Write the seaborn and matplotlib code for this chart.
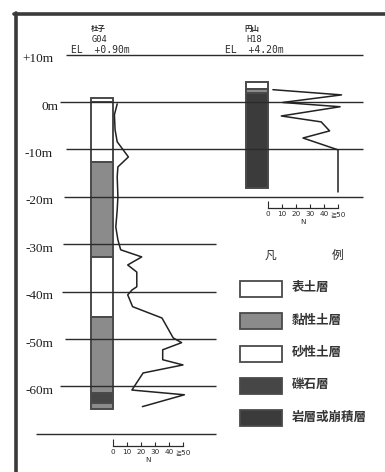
import matplotlib
matplotlib.use("Agg")
import matplotlib.pyplot as plt
from matplotlib.lines import Line2D
from matplotlib.patches import Rectangle
import pandas as pd
import seaborn as sns

sns.set_style("white")
plt.rcParams["font.family"] = ["DejaVu Sans", "Noto Sans CJK TC"]

# ---- data -------------------------------------------------------------
grid_levels = [10, 0, -10, -20, -30, -40, -50, -60, -70]
grid_labels = ["+10m", "0m", "-10m", "-20m", "-30m", "-40m", "-50m", "-60m", ""]

bh_names = ["杜子", "円山"]
bh_ids = ["G04", "H18"]
bh_el_text = ["EL  +0.90m", "EL  +4.20m"]

# layer logs: top / bottom elevation (m) and soil class
g04_top = [0.9, 0.0, -12.6, -32.7, -45.4, -61.5, -63.5]
g04_bottom = [0.0, -12.6, -32.7, -45.4, -61.5, -63.5, -64.8]
g04_soil = ["表土層", "砂性土層", "黏性土層", "砂性土層", "黏性土層", "礫石層", "黏性土層"]

h18_top = [4.2, 2.8, 1.8]
h18_bottom = [2.8, 1.8, -18.1]
h18_soil = ["表土層", "黏性土層", "岩層或崩積層"]

# SPT N-value profiles
g04_n_elev = [-0.4, -2.7, -5.9, -8.4, -11.6, -13.7, -15.8, -20.0, -22.8, -26.4,
              -29.1, -31.2, -32.7, -34.4, -35.9, -39.0, -39.7, -40.7, -43.2,
              -45.6, -49.8, -50.8, -52.3, -54.4, -55.5, -57.2, -60.8, -61.8, -64.3]
g04_n = [3, 1, 1.5, 3, 11, 3.5, 3, 3.5, 3, 2,
         3.5, 5.5, 20.5, 10.5, 17, 17, 13.5, 10.5, 14,
         35, 43, 49, 35.5, 35.5, 50, 21.5, 13.5, 51, 21]

h18_n_elev = [2.6, 1.5, -0.1, -1.0, -2.95, -4.2, -6.1, -7.6, -10.1, -19.0]
h18_n = [3.5, 52.5, 10.5, 51.5, 9.5, 38, 44, 25, 50, 50]

n_ticks = [0, 10, 20, 30, 40, 50]
n_tick_labels = ["0", "10", "20", "30", "40", "≧50"]

legend_title = ["凡", "例"]
legend_classes = ["表土層", "黏性土層", "砂性土層", "礫石層", "岩層或崩積層"]

soil_colors = {
    "表土層": "#ffffff",
    "黏性土層": "#8b8b8b",
    "砂性土層": "#ffffff",
    "礫石層": "#464646",
    "岩層或崩積層": "#3b3b3b",
}

# ---- layout (pixel grid of the sheet) ----------------------------------
W, H = 385, 472
PX_PER_M = 4.7375
ROW0 = 102          # pixel row of elevation 0 m
INK = "#2b2b2b"
EDGE = "#4a4a4a"


def elev_at(row):
    return (ROW0 - row) / PX_PER_M


fig = plt.figure(figsize=(W / 100, H / 100), dpi=100)
fig.patch.set_facecolor("white")
ax = fig.add_axes([0, 0, 1, 1])
ax.set_xlim(0, W)
ax.set_ylim(elev_at(H), elev_at(0))
ax.axis("off")

# sheet frame
fig.add_artist(Line2D([14 / W, 1], [1 - 13.5 / H] * 2, lw=2.6, color="#3a3a3a"))
fig.add_artist(Line2D([15.5 / W] * 2, [0, 1 - 12.5 / H], lw=2.6, color="#3a3a3a"))

# elevation grid
line_start = [66, 60, 66, 64, 63, 62, 65, 60, 36]
line_end = [363, 363, 363, 363, 216, 216, 216, 216, 216]
for lvl, x0, x1, lab in zip(grid_levels, line_start, line_end, grid_labels):
    ax.hlines(lvl, x0, x1, color=INK, lw=1.0)
    if lab:
        ax.text(58 if lab == "0m" else 53, lvl - 1.0, lab, ha="right", va="center",
                fontsize=9.5, family="Liberation Serif", color="#1e1e1e")

# borehole headers
for cx, name, bid, el in zip([98, 252], bh_names, bh_ids, bh_el_text):
    ax.text(cx, elev_at(28), name, ha="center", va="center", fontsize=5.4,
            family=["Noto Sans CJK JP", "DejaVu Sans"], weight="bold", color=INK)
    ax.text(cx + 2, elev_at(40), bid, ha="center", va="center", fontsize=6.3,
            family="DejaVu Sans Mono", color=INK)
    ax.text(cx + 2, elev_at(50), el, ha="center", va="center", fontsize=7,
            family="DejaVu Sans Mono", color=INK)

# borehole columns
for cx, tops, bots, soils in [(102, g04_top, g04_bottom, g04_soil),
                              (257, h18_top, h18_bottom, h18_soil)]:
    ax.bar([cx] * len(tops), [t - b for t, b in zip(tops, bots)], bottom=bots,
           width=22, color=[soil_colors[s] for s in soils],
           edgecolor=EDGE, linewidth=1.4)

# N-value profiles with their scales
for x0, elev, nval, scale_row in [(113, g04_n_elev, g04_n, 446),
                                  (268, h18_n_elev, h18_n, 208)]:
    nax = fig.add_axes([x0 / W, 0, 70 / W, 1])
    nax.patch.set_visible(False)
    df = pd.DataFrame({"N": nval, "elev": elev})
    sns.lineplot(data=df, x="N", y="elev", sort=False, estimator=None,
                 color="#222222", lw=1.1, ax=nax)
    for ln in nax.lines:
        ln.set_clip_on(False)
    nax.set_xlim(0, 50)
    nax.set_ylim(ax.get_ylim())
    for side in ["left", "right", "top"]:
        nax.spines[side].set_visible(False)
    nax.spines["bottom"].set_position(("data", elev_at(scale_row)))
    nax.spines["bottom"].set_bounds(0, 50)
    nax.spines["bottom"].set_color(INK)
    nax.spines["bottom"].set_linewidth(0.9)
    nax.set_yticks([])
    nax.set_ylabel("")
    nax.set_xticks(n_ticks, n_tick_labels)
    nax.tick_params(axis="x", direction="in", length=3, width=0.8, pad=2.2,
                    labelsize=5.2, colors=INK, bottom=True)
    nax.xaxis.get_major_ticks()[0].tick1line.set_markersize(5)
    nax.set_xlabel("N", fontsize=5.2, labelpad=1.5, color=INK)

# legend
ax.text(270, elev_at(255), legend_title[0], ha="center", va="center",
        fontsize=8.5, family=["Noto Sans CJK TC"], color=INK)
ax.text(338, elev_at(255), legend_title[1], ha="center", va="center",
        fontsize=8.5, family=["Noto Sans CJK TC"], color=INK)
box_rows = [289, 321, 353.5, 385.5, 418]
for row, cls in zip(box_rows, legend_classes):
    ax.add_patch(Rectangle((240, elev_at(row + 8)), 42, 16 / PX_PER_M,
                           facecolor=soil_colors[cls], edgecolor=EDGE, lw=1.3))
    ax.text(292, elev_at(row - 1), cls, ha="left", va="center", fontsize=9,
            family=["Noto Sans CJK TC"], weight="bold", color="#333333")

fig.savefig("out.png", dpi=100, facecolor="white")
